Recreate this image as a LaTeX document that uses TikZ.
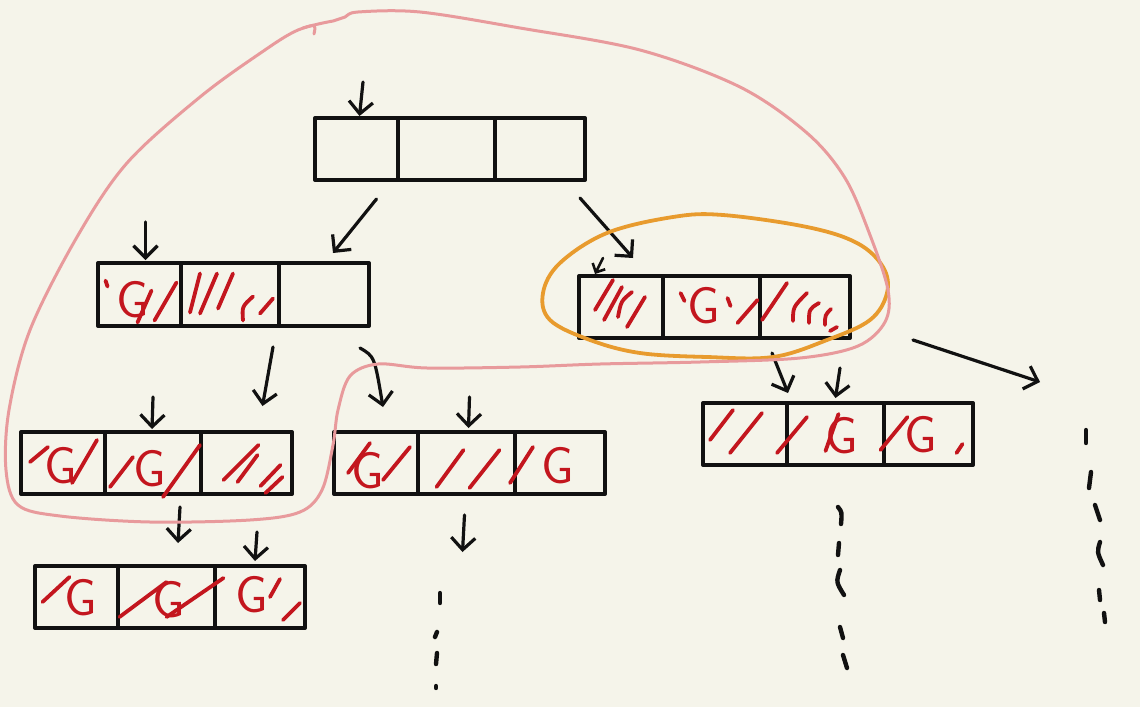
\documentclass[tikz,border=0pt]{standalone}
\usetikzlibrary{arrows.meta,calc}
\definecolor{paper}{HTML}{F5F4EA}
\definecolor{ink}{HTML}{111111}
\definecolor{redink}{HTML}{C3161E}
\definecolor{pinkink}{HTML}{E89A9C}
\definecolor{orangeink}{HTML}{E89B2E}
\tikzset{
  cell/.style={draw=ink, line width=2pt, minimum height=31pt, inner sep=0pt, outer sep=0pt, line join=round},
  arr/.style={draw=ink, line width=1.6pt, line cap=round, -{Straight Barb[length=6pt,width=12pt,line width=1.6pt]}},
  smallarr/.style={draw=ink, line width=1.3pt, line cap=round, -{Straight Barb[length=3.5pt,width=7pt,line width=1.3pt]}},
  redmark/.style={draw=redink, line width=1.9pt, line cap=round},
  gtext/.style={text=redink, font=\sffamily\fontsize{26}{26}\selectfont, inner sep=0pt},
  dotmark/.style={draw=ink, line width=2.2pt, line cap=round},
  pinkloop/.style={draw=pinkink, line width=1.5pt, line cap=round},
  orangeloop/.style={draw=orangeink, line width=1.9pt}
}
\begin{document}
\begin{tikzpicture}[x=0.5pt,y=-0.5pt]
\fill[paper] (0,0) rectangle (1140,707);
\useasboundingbox (0,0) rectangle (1140,707);

% root
\node[cell, minimum width=41.5pt] (r1) at (356.5,149) {};
\node[cell, minimum width=48.5pt] (r2) at (446.5,149) {};
\node[cell, minimum width=45pt]   (r3) at (540,149) {};
% A (level 1 left)
\node[cell, minimum width=41.5pt, minimum height=31.5pt] (a1) at (139.5,294.5) {};
\node[cell, minimum width=49pt, minimum height=31.5pt]   (a2) at (230,294.5) {};
\node[cell, minimum width=45pt, minimum height=31.5pt]   (a3) at (324,294.5) {};
% B (level 1 right)
\node[cell, minimum width=42pt]   (b1) at (621,307) {};
\node[cell, minimum width=48.5pt] (b2) at (711.5,307) {};
\node[cell, minimum width=45pt]   (b3) at (805,307) {};
% C
\node[cell, minimum width=42pt]   (c1) at (63,463) {};
\node[cell, minimum width=48pt]   (c2) at (153,463) {};
\node[cell, minimum width=45.5pt] (c3) at (246.5,463) {};
% D
\node[cell, minimum width=42pt]   (d1) at (376,463) {};
\node[cell, minimum width=48.5pt] (d2) at (466.5,463) {};
\node[cell, minimum width=45pt]   (d3) at (560,463) {};
% E
\node[cell, minimum width=42pt]   (e1) at (745,434) {};
\node[cell, minimum width=48.5pt] (e2) at (835.5,434) {};
\node[cell, minimum width=44.5pt] (e3) at (928.5,434) {};
% F
\node[cell, minimum width=41.5pt] (f1) at (76.5,597) {};
\node[cell, minimum width=48.5pt] (f2) at (166.5,597) {};
\node[cell, minimum width=45pt]   (f3) at (260,597) {};

% red marks
\begin{scope}[shift={(a1.center)}]
  \draw[redmark] (-34,-14) -- (-32,-8);
  \node[gtext] (ga1) at (-7,5) {G};
  \draw[redmark] (-2,28) -- (12,-4);
  \draw[redmark] (15,26) -- (37,-12);
\end{scope}
\begin{scope}[shift={(a2.center)}]
  \draw[redmark] (-40,18) -- (-30,-21);
  \draw[redmark] (-30,19) -- (-13,-21);
  \draw[redmark] (-12,14) -- (3,-21);
  \draw[redmark] (13,26) .. controls (12,12) .. (23,2);
  \draw[redmark] (30,19) -- (43,4);
\end{scope}
\begin{scope}[shift={(b1.center)}]
  \draw[redmark] (-26,3) -- (-8,-27);
  \draw[redmark] (-17,13) -- (1,-20);
  \draw[redmark] (-3,10) .. controls (0,-6) .. (11,-15);
  \draw[redmark] (6,20) -- (24,-10);
\end{scope}
\begin{scope}[shift={(b2.center)}]
  \draw[redmark] (-31,-14) -- (-27,-6);
  \node[gtext] (gb2) at (-8,-1) {G};
  \draw[redmark] (16,-9) -- (19,-1);
  \draw[redmark] (26,16) -- (46,-7);
\end{scope}
\begin{scope}[shift={(b3.center)}]
  \draw[redmark] (-43,13) -- (-18,-24);
  \draw[redmark] (-12,14) .. controls (-12,0) .. (2,-14);
  \draw[redmark] (4,16) .. controls (4,2) .. (14,-4);
  \draw[redmark] (20,18) .. controls (20,8) .. (26,2);
  \draw[redmark] (25,24) -- (32,20);
\end{scope}
\begin{scope}[shift={(c1.center)}]
  \draw[redmark] (-33,-1) -- (-15,-16);
  \node[gtext] (gc1) at (-2,3) {G};
  \draw[redmark] (9,20) -- (34,-23);
\end{scope}
\begin{scope}[shift={(c2.center)}]
  \draw[redmark] (-43,24) -- (-20,-6);
  \node[gtext] (gc2) at (-3,6) {G};
  \draw[redmark] (10,34) -- (47,-18);
\end{scope}
\begin{scope}[shift={(c3.center)}]
  \draw[redmark] (-23,17) -- (12,-18);
  \draw[redmark] (-9,19) -- (11,-8);
  \draw[redmark] (14,23) -- (34,2);
  \draw[redmark] (19,30) -- (36,14);
\end{scope}
\begin{scope}[shift={(d1.center)}]
  \draw[redmark] (-28,10) -- (-6,-20);
  \node[gtext] (gd1) at (-8,8) {G};
  \draw[redmark] (7,17) -- (34,-16);
\end{scope}
\begin{scope}[shift={(d2.center)}]
  \draw[redmark] (-30,24) -- (-3,-13);
  \draw[redmark] (3,25) -- (33,-13);
\end{scope}
\begin{scope}[shift={(d3.center)}]
  \draw[redmark] (-50,20) -- (-27,-16);
  \node[gtext] (gd3) at (-2,3) {G};
\end{scope}
\begin{scope}[shift={(e1.center)}]
  \draw[redmark] (-35,6) -- (-12,-24);
  \draw[redmark] (-15,19) -- (17,-21);
  \draw[redmark] (32,19) -- (62,-17);
\end{scope}
\begin{scope}[shift={(e2.center)}]
  \node[gtext] (ge2) at (6,2) {G};
  \draw[redmark] (-10,17) -- (3,-20);
\end{scope}
\begin{scope}[shift={(e3.center)}]
  \draw[redmark] (-48,16) -- (-21,-17);
  \node[gtext] (ge3) at (-8,1) {G};
  \draw[redmark] (28,19) -- (34,10);
\end{scope}
\begin{scope}[shift={(f1.center)}]
  \draw[redmark] (-34,5) -- (-7,-20);
  \node[gtext] (gf1) at (4,1) {G};
\end{scope}
\begin{scope}[shift={(f2.center)}]
  \draw[redmark] (-47,20) -- (0,-15);
  \node[gtext] (gf2) at (2,3) {G};
  \draw[redmark] (0,20) -- (57,-19);
\end{scope}
\begin{scope}[shift={(f3.center)}]
  \node[gtext] (gf3) at (-8,-2) {G};
  \draw[redmark] (10,0) -- (20,-18);
  \draw[redmark] (23,23) -- (40,6);
\end{scope}

% arrows
\coordinate (top) at (363,82);
\draw[arr] (top) -- ($(r1.north)+(3,-2)$);
\draw[arr] ($(r1.south)+(20,19)$) -- ($(a3.north)+(9,-10)$);
\draw[arr] ($(r3.south)+(40,18)$) -- ($(b1.north)+(12,-18)$);
\draw[arr] ($(a1.north)+(6,-41)$) -- ($(a1.north)+(6,-3)$);
\draw[smallarr] ($(b1.north)+(-18,-18)$) -- ($(b1.north)+(-26,-2)$);
\draw[arr] ($(a3.south)+(-51,21)$) -- ($(c3.north)+(16,-26)$);
\draw[arr] ($(a3.south)+(36,22)$) .. controls ($(a3.south)+(50.5,30.5)$) .. ($(d1.north)+(7,-25)$);
\draw[arr] ($(c2.north)+(0,-35)$) -- ($(c2.north)+(-1,-3)$);
\draw[arr] ($(d2.north)+(3,-35)$) -- ($(d2.north)+(2,-4)$);
\draw[arr] ($(b2.south)+(60.5,15)$) -- ($(e1.north)+(43,-10)$);
\draw[arr] ($(b3.south)+(35,30)$) -- ($(e2.north)+(0,-5)$);
\coordinate (rightchild) at (1040,382);
\draw[arr] ($(b3.east)+(63,33)$) -- (rightchild);
\draw[arr] ($(c2.south)+(27,13)$) -- ($(f2.north)+(11.5,-23)$);
\draw[arr] ($(f3.north)+(-3,-34)$) -- ($(f3.north)+(-5,-5)$);
\coordinate (dchild) at (462.5,552);
\draw[arr] ($(d2.south)+(-2,21)$) -- (dchild);

% continuation marks
\draw[dotmark] (440,593) -- (440,603);
\draw[dotmark] (437,632) -- (435,637);
\draw[dotmark] (437,653) -- (436,664);
\draw[dotmark] (436,686) -- (436,688);
\draw[dotmark] (838,507) .. controls (842,512) .. (841,524);
\draw[dotmark] (839,543) -- (838,555);
\draw[dotmark] (840,570) .. controls (836,582) .. (844,595);
\draw[dotmark] (840,627) -- (843,638);
\draw[dotmark] (843,655) -- (847,668);
\draw[dotmark] (1086,430) -- (1086,443);
\draw[dotmark] (1091,472) -- (1089,488);
\draw[dotmark] (1095,505) -- (1100,520);
\draw[dotmark] (1100,542) .. controls (1097,552) .. (1103,565);
\draw[dotmark] (1099,590) -- (1100,600);
\draw[dotmark] (1104,613) -- (1105,622);

% orange loop around B
\draw[orangeloop] plot[smooth cycle, tension=0.6] coordinates {
 (723,215) (807,227) (857,243) (883,267) (887,293) (870,320) (827,340)
 (773,357) (707,357) (640,353) (590,340) (550,320) (543,293) (560,263)
 (607,233) (673,217)};

% pink loop
\draw[pinkloop] plot[smooth, tension=0.55] coordinates {
 (333,21) (345,17) (358,12) (420,12) (520,28) (640,50) (740,87)
 (807,133) (845,178) (870,235) (888,290) (885,322) (858,346) (800,358)
 (700,362) (600,364) (520,367) (427,368) (378,364) (350,376) (338,410)
 (333,445) (322,490) (300,512) (250,520) (150,522) (60,516) (18,505)
 (6,470) (9,410) (30,330) (77,237) (127,163) (200,97) (262,52) (298,30) (333,21)};
\draw[pinkloop] (303,28) .. controls (316,24) .. (314,34);
\end{tikzpicture}
\end{document}
